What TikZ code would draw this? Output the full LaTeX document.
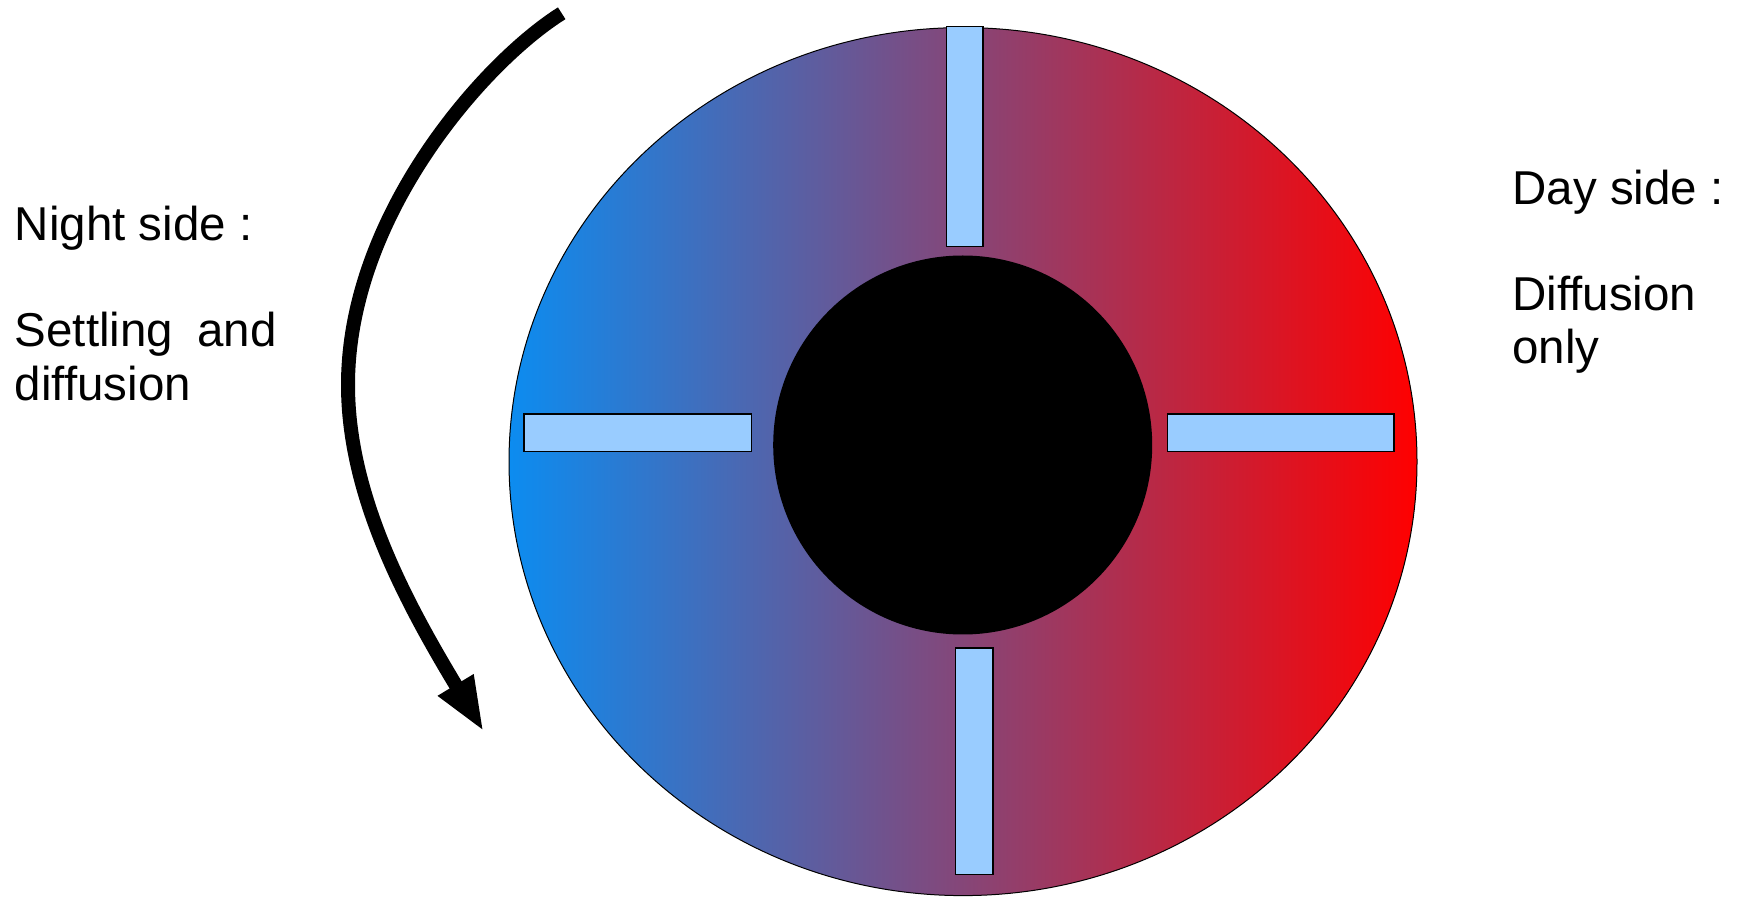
\documentclass[tikz,border=0pt]{standalone}
\usepackage{fontspec}
\setmainfont{Liberation Sans}
\usetikzlibrary{arrows.meta}
\definecolor{leftblue}{RGB}{12,140,240}
\definecolor{rightred}{RGB}{255,0,0}
\definecolor{barblue}{RGB}{153,204,255}
\begin{document}
\begin{tikzpicture}[x=0.5pt,y=-0.5pt,
  bar/.style={draw=black,line width=0.75pt,fill=barblue},
  label/.style={anchor=base west,inner sep=0pt,font=\fontsize{23.75pt}{27pt}\selectfont},
  rotarrow/.style={line width=7pt,-{Triangle[length=27.5pt,width=18.75pt]}}]
\useasboundingbox (0,0) rectangle (1740,897);
% disc with day/night shading
\shade[left color=leftblue,right color=rightred] (963,461.6) ellipse [x radius=227pt,y radius=217pt];
\draw[line width=0.5pt] (963,461.6) ellipse [x radius=227pt,y radius=217pt];
% black core
\fill[black] (962.7,445) circle [radius=94.75pt];
% bars
\path[bar] (946.6,26.6) rectangle (983.2,246.4);
\path[bar] (955.4,648) rectangle (993.2,874.4);
\path[bar] (523.8,414) rectangle (751.3,451.6);
\path[bar] (1167.4,414) rectangle (1393.8,451.6);
% rotation arrow
\coordinate (as) at (561.7,13.3);
\coordinate (am) at (348,385);
\coordinate (at) at (484,732);
\draw[rotarrow] (as) .. controls (485.4,61) and (348,215) .. (am)
  .. controls (348,495) and (405.5,601.8) .. (at);
% texts
\node[label] (n1) at (14.5,241) {Night side :};
\node[label] (n2) at (14.5,347) {\makebox[131pt][s]{Settling and}};
\node[label] (n3) at (14.5,401) {diffusion};
\node[label] (d1) at (1512,205) {Day side :};
\node[label] (d2) at (1512,311) {Diffusion};
\node[label] (d3) at (1512,364) {only};
\end{tikzpicture}
\end{document}
